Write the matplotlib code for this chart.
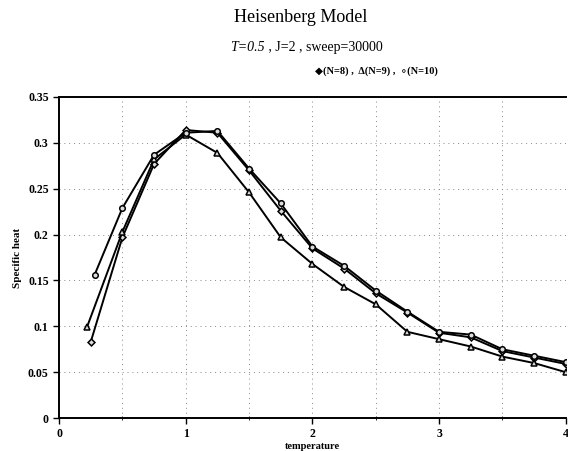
import matplotlib
matplotlib.use("Agg")
import matplotlib.pyplot as plt
import numpy as np

plt.rcParams['font.family'] = ['Liberation Serif', 'DejaVu Serif']

# specific heat vs temperature
t8 = [0.25, 0.5, 0.75, 1.0, 1.25, 1.5, 1.75, 2.0, 2.25, 2.5, 2.75, 3.0, 3.25, 3.5, 3.75, 4.0]
c8 = [0.083, 0.197, 0.277, 0.314, 0.311, 0.27, 0.226, 0.185, 0.163, 0.136, 0.115, 0.093, 0.088, 0.073, 0.066, 0.059]

t9 = [0.22, 0.5, 0.75, 1.0, 1.25, 1.5, 1.75, 2.0, 2.25, 2.5, 2.75, 3.0, 3.25, 3.5, 3.75, 4.0]
c9 = [0.099, 0.203, 0.282, 0.309, 0.289, 0.246, 0.197, 0.168, 0.143, 0.124, 0.094, 0.086, 0.078, 0.067, 0.060, 0.050]

t10 = [0.28, 0.5, 0.75, 1.0, 1.25, 1.5, 1.75, 2.0, 2.25, 2.5, 2.75, 3.0, 3.25, 3.5, 3.75, 4.0]
c10 = [0.156, 0.229, 0.287, 0.311, 0.313, 0.272, 0.234, 0.187, 0.166, 0.139, 0.116, 0.094, 0.091, 0.075, 0.068, 0.061]

fig = plt.figure(figsize=(5.68, 4.51), dpi=100)
ax = fig.add_axes([0.104, 0.073, 0.892, 0.712])

kw = dict(color='black', lw=1.4, mfc='#dddddd', mec='black', mew=1.1)
ax.plot(t8, c8, marker='D', ms=3.5, **kw)
ax.plot(t9, c9, marker='^', ms=4.5, **kw)
ax.plot(t10, c10, marker='o', ms=4, **kw)

ax.set_xlim(0, 4)
ax.set_ylim(0, 0.35)
ax.set_xticks([0, 1, 2, 3, 4])
ax.set_xticks(np.arange(0, 4.01, 0.5), minor=True)
ax.set_yticks(np.arange(0, 0.351, 0.05))
ax.set_yticklabels(['0', '0.05', '0.1', '0.15', '0.2', '0.25', '0.3', '0.35'])
ax.tick_params(axis='both', labelsize=8.5, length=4, width=1)
ax.tick_params(axis='x', which='minor', length=3, direction='inout')
for lab in ax.get_xticklabels() + ax.get_yticklabels():
    lab.set_fontweight('bold')

ax.grid(True, which='both', axis='x', color='#888888', lw=0.7, ls=(0, (1, 4)))
ax.grid(True, which='major', axis='y', color='#888888', lw=0.7, ls=(0, (1, 4)))

ax.spines['right'].set_visible(False)
for s in ['left', 'bottom', 'top']:
    ax.spines[s].set_linewidth(1.4)

ax.set_xlabel('temperature', fontsize=7.5, fontweight='bold', labelpad=1)
ax.set_ylabel('Specific heat', fontsize=8, fontweight='bold', labelpad=4)

fig.text(0.53, 0.962, 'Heisenberg Model', ha='center', va='center', fontsize=13)
t1 = fig.text(0.405, 0.895, 'T=0.5', ha='left', va='center', fontsize=10, fontstyle='italic')
ax.annotate(' , J=2 , sweep=30000', xy=(1, 0.5), xycoords=t1, va='center', ha='left', fontsize=10)
fig.text(0.662, 0.842, '\u25c6(N=8) ,  \u0394(N=9) ,  \u2218(N=10)', ha='center', va='center',
         fontsize=7.5, fontweight='bold', family=['Liberation Serif', 'DejaVu Sans'])

fig.savefig('out.png', dpi=100, facecolor='white')
